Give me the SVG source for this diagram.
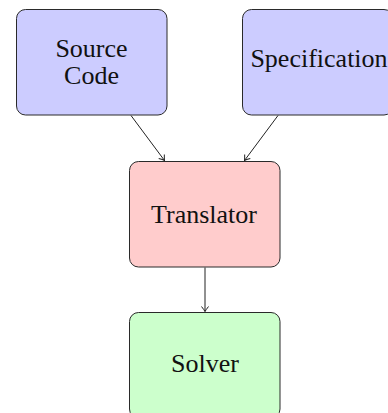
<svg xmlns="http://www.w3.org/2000/svg" width="388" height="413" viewBox="0 0 388 413">
<style>
.box{stroke:#2a2a2a;stroke-width:1}
.blue{fill:#ccccff}
.red{fill:#ffcccc}
.green{fill:#ccffcc}
.lbl{font-size:26px;fill:#111;text-anchor:middle}
.edge{stroke:#222;stroke-width:1;fill:none;marker-end:url(#arr)}
</style>
<defs>
<marker id="arr" markerUnits="userSpaceOnUse" markerWidth="12" markerHeight="12" viewBox="-6 -6 12 12" refX="0" refY="0" orient="auto">
<path d="M -5 -3.5 Q -1.5 -0.8 0 0 Q -1.5 0.8 -5 3.5" fill="none" stroke="#222" stroke-width="1"/>
</marker>
</defs>
<rect width="388" height="413" fill="#ffffff"/>
<g id="connectors">
<path class="edge" d="M 131 115.5 L 164.5 160.5"/>
<path class="edge" d="M 278 115.5 L 244.5 160.5"/>
<path class="edge" d="M 205 267.5 L 205 311.5"/>
</g>
<g font-family="'Liberation Serif', 'Times New Roman', 'DejaVu Serif', serif">
<g id="source-code">
<rect class="box blue" x="16.5" y="9.5" width="150.5" height="105.5" rx="9" ry="9"/>
<text class="lbl" x="91.5" y="57">Source</text>
<text class="lbl" x="91.5" y="84">Code</text>
</g>
<g id="specification">
<rect class="box blue" x="242.5" y="9.5" width="150.5" height="105.5" rx="9" ry="9"/>
<text class="lbl" x="319" y="67">Specification</text>
</g>
<g id="translator">
<rect class="box red" x="129.5" y="161.5" width="150.5" height="105.5" rx="9" ry="9"/>
<text class="lbl" x="204" y="223">Translator</text>
</g>
<g id="solver">
<rect class="box green" x="129.5" y="312.5" width="150.5" height="105.5" rx="9" ry="9"/>
<text class="lbl" x="205" y="372">Solver</text>
</g>
</g>
</svg>
